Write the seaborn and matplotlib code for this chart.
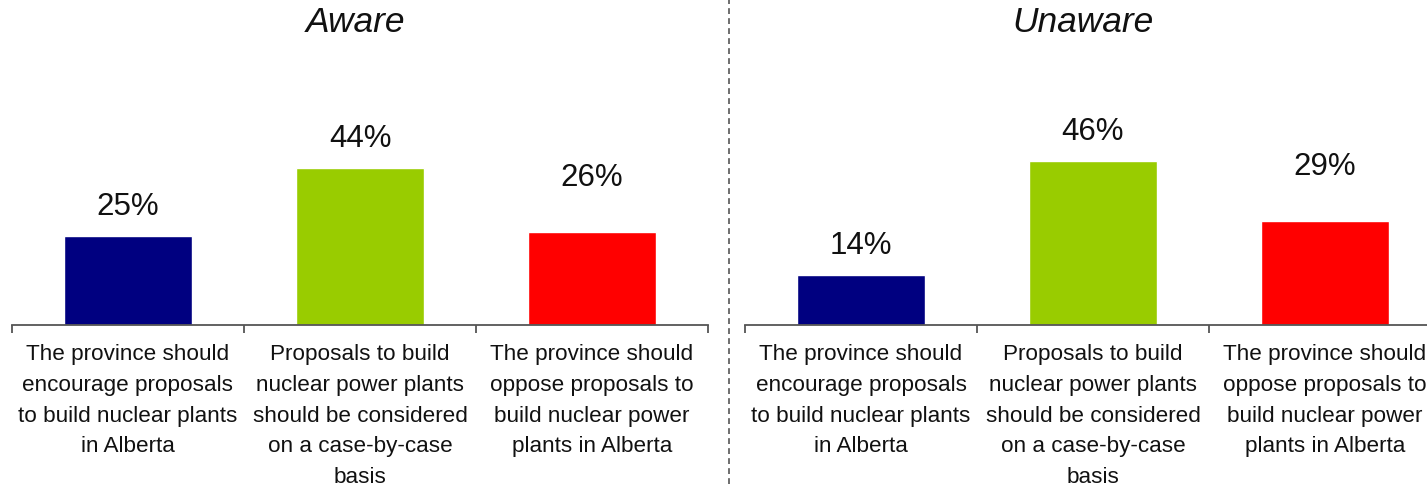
import matplotlib
matplotlib.use("Agg")
import matplotlib.pyplot as plt
from matplotlib.lines import Line2D
import seaborn as sns
import pandas as pd

sns.set_theme(style="white")
plt.rcParams["font.family"] = ["Liberation Sans", "DejaVu Sans"]

# Survey responses on nuclear power proposals, split by awareness
categories = [
    "The province should\nencourage proposals\nto build nuclear plants\nin Alberta",
    "Proposals to build\nnuclear power plants\nshould be considered\non a case-by-case\nbasis",
    "The province should\noppose proposals to\nbuild nuclear power\nplants in Alberta",
]
aware_values = [25, 44, 26]
unaware_values = [14, 46, 29]
group_titles = ["Aware", "Unaware"]
bar_colors = ["#000080", "#99CC00", "#FF0000"]

W, H = 1427, 487
fig = plt.figure(figsize=(W / 100, H / 100), dpi=100)

ax_w = 696 / W
ax_bottom = (H - 325) / H
ax_h = 250 / H
panels = [
    (fig.add_axes([12 / W, ax_bottom, ax_w, ax_h]), aware_values, 356),
    (fig.add_axes([745 / W, ax_bottom, ax_w, ax_h]), unaware_values, 1083),
]

for (ax, values, title_x), title in zip(panels, group_titles):
    df = pd.DataFrame({"category": categories, "value": values})
    sns.barplot(
        data=df, x="category", y="value", hue="category",
        palette=bar_colors, width=0.556, saturation=1,
        legend=False, ax=ax,
    )
    ax.set_xlim(-0.5, 2.5)
    ax.set_ylim(0, 70)
    ax.set_xlabel("")
    ax.set_ylabel("")
    ax.set_yticks([])
    for side in ("top", "right", "left"):
        ax.spines[side].set_visible(False)
    ax.spines["bottom"].set_color("#555555")
    ax.spines["bottom"].set_linewidth(1.3)

    # category boundaries as downward ticks, labels at bar centres
    ax.set_xticks([-0.5, 0.5, 1.5, 2.5], minor=True)
    ax.tick_params(axis="x", which="minor", direction="out", length=6,
                   width=1.3, color="#555555", bottom=True)
    ax.tick_params(axis="x", which="major", length=0, pad=14)
    ax.set_xticks(range(len(categories)))
    ax.set_xticklabels(categories, fontsize=16.2, linespacing=1.6,
                       va="top", ha="center", color="#111111")

    for i, (patch, v) in enumerate(zip(ax.patches, values)):
        cx = patch.get_x() + patch.get_width() / 2
        offset = 28.5 if i == 2 else 10
        ax.annotate(f"{v}%", (cx, v), xytext=(0, offset),
                    textcoords="offset points", ha="center", va="bottom",
                    fontsize=22.5, color="#111111", annotation_clip=False)

    fig.text(title_x / W, 1 - 23 / H, title, ha="center", va="center",
             fontsize=25.5, style="italic", color="#111111")

# dashed separator between the two groups
fig.add_artist(Line2D([729 / W, 729 / W], [3 / H, 1], transform=fig.transFigure,
                      color="#555555", linewidth=1.2, linestyle=(0, (3.5, 2.5))))

fig.savefig("out.png", dpi=100)
